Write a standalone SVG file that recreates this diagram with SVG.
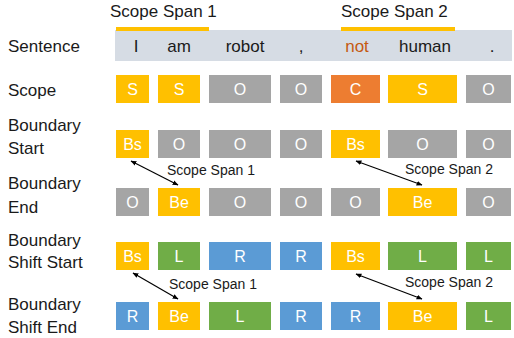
<svg xmlns="http://www.w3.org/2000/svg" width="514" height="338" viewBox="0 0 514 338">
<defs>
<marker id="ah" viewBox="0 0 10 10" refX="9" refY="5" markerWidth="6" markerHeight="6" orient="auto-start-reverse" markerUnits="userSpaceOnUse">
<path d="M0,1 L10,5 L0,9 z" fill="#000"/>
</marker>
<style>
text{font-family:"Liberation Sans",Arial,sans-serif}
.lbl{font-size:17px;fill:#1a1a1a}
.w{font-size:17px;fill:#1a1a1a;text-anchor:middle}
.c{font-size:16px;fill:#fff;text-anchor:middle}
.sp{font-size:14px;fill:#1a1a1a}
.Y{fill:#FFC000}.G{fill:#A5A5A5}.O{fill:#ED7D31}.B{fill:#5B9BD5}.N{fill:#70AD47}
.ar{stroke:#000;stroke-width:1.2;fill:none;marker-start:url(#ah);marker-end:url(#ah)}
</style>
</defs>
<rect width="514" height="338" fill="#fff"/>

<g id="labels">
<text class="lbl" x="8" y="52">Sentence</text>
<text class="lbl" x="8" y="96">Scope</text>
<text class="lbl" x="8" y="131">Boundary</text>
<text class="lbl" x="8" y="154">Start</text>
<text class="lbl" x="8" y="189">Boundary</text>
<text class="lbl" x="8" y="213">End</text>
<text class="lbl" x="8" y="246">Boundary</text>
<text class="lbl" x="8" y="268">Shift Start</text>
<text class="lbl" x="8" y="310">Boundary</text>
<text class="lbl" x="8" y="333">Shift End</text>
</g>

<g id="sentence">
<rect x="115" y="30" width="397" height="31" fill="#D6DCE4"/>
<rect x="116" y="27" width="93" height="4" class="Y"/>
<rect x="341" y="27" width="114" height="4" class="Y"/>
<text class="lbl" x="110" y="17">Scope Span 1</text>
<text class="lbl" x="341" y="17">Scope Span 2</text>
<text class="w" x="136" y="52">I</text>
<text class="w" x="179" y="52">am</text>
<text class="w" x="245" y="52">robot</text>
<text class="w" x="301" y="52">,</text>
<text class="w" x="357" y="52" style="fill:#C55A11">not</text>
<text class="w" x="425" y="52">human</text>
<text class="w" x="492" y="52">.</text>
</g>

<g id="row-scope">
<rect x="116" y="75" width="33" height="28" class="Y"/><text class="c" x="132.5" y="95">S</text>
<rect x="158" y="75" width="42" height="28" class="Y"/><text class="c" x="179" y="95">S</text>
<rect x="209" y="75" width="62" height="28" class="G"/><text class="c" x="240" y="95">O</text>
<rect x="280" y="75" width="42" height="28" class="G"/><text class="c" x="301" y="95">O</text>
<rect x="331" y="75" width="49" height="28" class="O"/><text class="c" x="355.5" y="95">C</text>
<rect x="388" y="75" width="69" height="28" class="Y"/><text class="c" x="422.5" y="95">S</text>
<rect x="466" y="75" width="45" height="28" class="G"/><text class="c" x="488.5" y="95">O</text>
</g>

<g id="row-bs">
<rect x="116" y="130" width="33" height="28" class="Y"/><text class="c" x="132.5" y="150">Bs</text>
<rect x="158" y="130" width="42" height="28" class="G"/><text class="c" x="179" y="150">O</text>
<rect x="209" y="130" width="62" height="28" class="G"/><text class="c" x="240" y="150">O</text>
<rect x="280" y="130" width="42" height="28" class="G"/><text class="c" x="301" y="150">O</text>
<rect x="331" y="130" width="49" height="28" class="Y"/><text class="c" x="355.5" y="150">Bs</text>
<rect x="388" y="130" width="69" height="28" class="G"/><text class="c" x="422.5" y="150">O</text>
<rect x="466" y="130" width="45" height="28" class="G"/><text class="c" x="488.5" y="150">O</text>
</g>

<g id="row-be">
<rect x="116" y="188" width="33" height="28" class="G"/><text class="c" x="132.5" y="208">O</text>
<rect x="158" y="188" width="42" height="28" class="Y"/><text class="c" x="179" y="208">Be</text>
<rect x="209" y="188" width="62" height="28" class="G"/><text class="c" x="240" y="208">O</text>
<rect x="280" y="188" width="42" height="28" class="G"/><text class="c" x="301" y="208">O</text>
<rect x="331" y="188" width="49" height="28" class="G"/><text class="c" x="355.5" y="208">O</text>
<rect x="388" y="188" width="69" height="28" class="Y"/><text class="c" x="422.5" y="208">Be</text>
<rect x="466" y="188" width="45" height="28" class="G"/><text class="c" x="488.5" y="208">O</text>
</g>

<g id="row-ss">
<rect x="116" y="242" width="33" height="28" class="Y"/><text class="c" x="132.5" y="262">Bs</text>
<rect x="158" y="242" width="42" height="28" class="N"/><text class="c" x="179" y="262">L</text>
<rect x="209" y="242" width="62" height="28" class="B"/><text class="c" x="240" y="262">R</text>
<rect x="280" y="242" width="42" height="28" class="B"/><text class="c" x="301" y="262">R</text>
<rect x="331" y="242" width="49" height="28" class="Y"/><text class="c" x="355.5" y="262">Bs</text>
<rect x="388" y="242" width="69" height="28" class="N"/><text class="c" x="422.5" y="262">L</text>
<rect x="466" y="242" width="45" height="28" class="N"/><text class="c" x="488.5" y="262">L</text>
</g>

<g id="row-se">
<rect x="116" y="302" width="33" height="28" class="B"/><text class="c" x="132.5" y="322">R</text>
<rect x="158" y="302" width="42" height="28" class="Y"/><text class="c" x="179" y="322">Be</text>
<rect x="209" y="302" width="62" height="28" class="N"/><text class="c" x="240" y="322">L</text>
<rect x="280" y="302" width="42" height="28" class="B"/><text class="c" x="301" y="322">R</text>
<rect x="331" y="302" width="49" height="28" class="B"/><text class="c" x="355.5" y="322">R</text>
<rect x="388" y="302" width="69" height="28" class="Y"/><text class="c" x="422.5" y="322">Be</text>
<rect x="466" y="302" width="45" height="28" class="N"/><text class="c" x="488.5" y="322">L</text>
</g>

<g id="connectors">
<line class="ar" x1="131" y1="161" x2="178" y2="185"/>
<line class="ar" x1="356" y1="161" x2="422" y2="185"/>
<line class="ar" x1="133" y1="273" x2="178" y2="299"/>
<line class="ar" x1="356" y1="274" x2="422" y2="299"/>
<text class="sp" x="167" y="175">Scope Span 1</text>
<text class="sp" x="405" y="174">Scope Span 2</text>
<text class="sp" x="169" y="289">Scope Span 1</text>
<text class="sp" x="405" y="287">Scope Span 2</text>
</g>
</svg>
